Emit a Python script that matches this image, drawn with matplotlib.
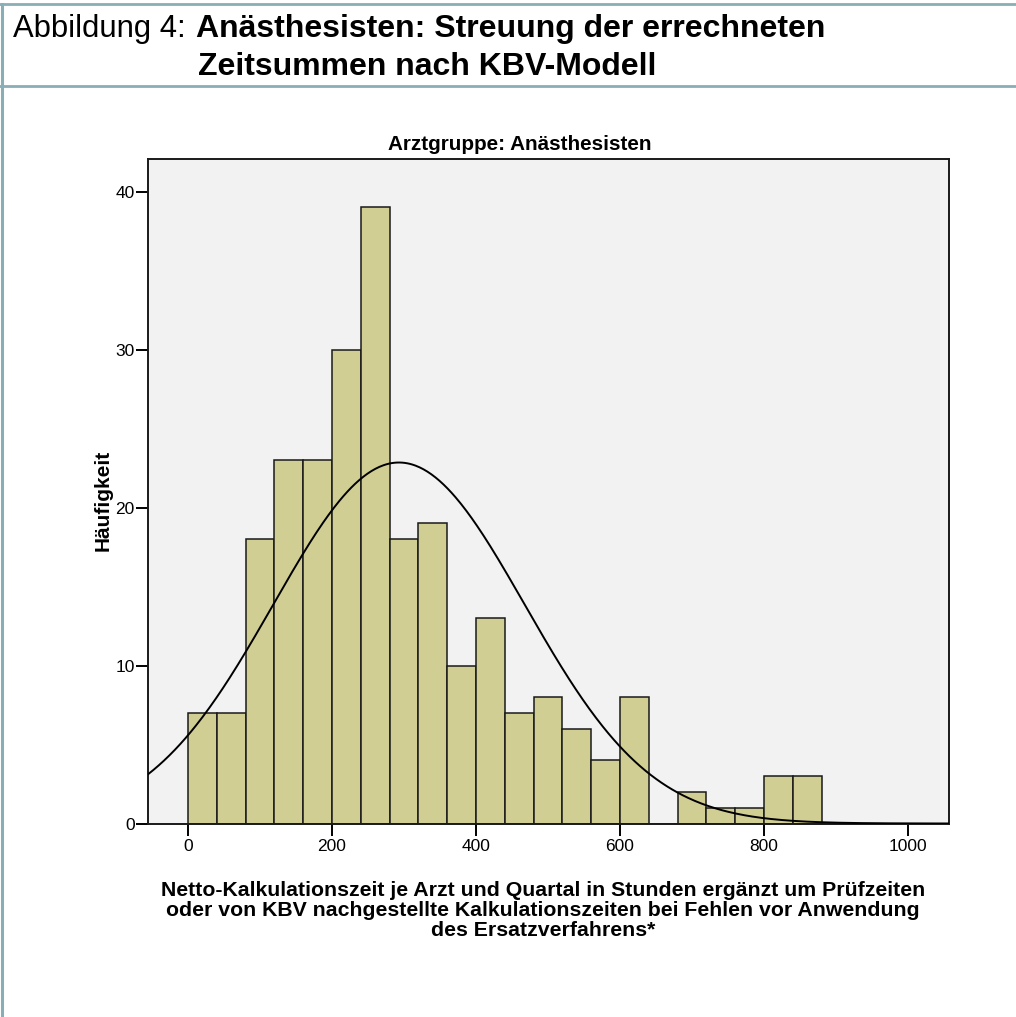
import numpy as np
import matplotlib
matplotlib.use("Agg")
import matplotlib.pyplot as plt
from matplotlib.lines import Line2D

plt.rcParams['font.family'] = ['Liberation Sans', 'DejaVu Sans']

# ---- data ----
bin_width = 40
bin_starts = [0, 40, 80, 120, 160, 200, 240, 280, 320, 360, 400, 440, 480,
              520, 560, 600, 640, 680, 720, 760, 800, 840]
counts = [7, 7, 18, 23, 23, 30, 39, 18, 19, 10, 13, 7, 8, 6, 4, 8, 0, 2, 1, 1, 3, 3]
fit_mean = 293.0
fit_sd = 174.6
x_ticks = [0, 200, 400, 600, 800, 1000]
y_ticks = [0, 10, 20, 30, 40]

title = "Arztgruppe: Anästhesisten"
ylabel = "Häufigkeit"
xlabel = ("Netto-Kalkulationszeit je Arzt und Quartal in Stunden ergänzt um Prüfzeiten\n"
          "oder von KBV nachgestellte Kalkulationszeiten bei Fehlen vor Anwendung\n"
          "des Ersatzverfahrens*")
header_prefix = "Abbildung 4:"
header_line1 = "Anästhesisten: Streuung der errechneten"
header_line2 = "Zeitsummen nach KBV-Modell"

W, H = 1016, 1017
fig = plt.figure(figsize=(W / 100, H / 100), dpi=100)
fig.patch.set_facecolor("white")

ax = fig.add_axes([148 / W, 1 - 823.5 / H, (949 - 148) / W, (823.5 - 159) / H])
ax.set_facecolor("#F2F2F2")

ax.bar(bin_starts, counts, width=bin_width, align="edge",
       color="#D1CE94", edgecolor="#1a1a1a", linewidth=1.1, zorder=2)

xlim = (-55.6, 1057)
xs = np.linspace(xlim[0], xlim[1], 600)
n_total = sum(counts)
ys = n_total * bin_width / (fit_sd * np.sqrt(2 * np.pi)) * np.exp(-0.5 * ((xs - fit_mean) / fit_sd) ** 2)
ax.plot(xs, ys, color="black", linewidth=1.4, zorder=3)

ax.set_xlim(*xlim)
ax.set_ylim(0, 42.06)
ax.set_xticks(x_ticks)
ax.set_yticks(y_ticks)
ax.tick_params(axis="both", direction="out", length=8.5, width=1.4, colors="black",
               labelsize=12.5)
ax.tick_params(axis="x", pad=3)
ax.tick_params(axis="y", pad=1)
for s in ax.spines.values():
    s.set_linewidth(1.4)
    s.set_color("#1a1a1a")

# title and labels
fig.text(520 / W, 1 - 150 / H, title, ha="center", va="baseline",
         fontsize=14.9, fontweight="bold")
fig.text(103 / W, 1 - 500 / H, ylabel, ha="center", va="center", rotation=90,
         fontsize=15, fontweight="bold")
fig.text(543 / W, 1 - 936 / H, xlabel, ha="center", va="baseline",
         multialignment="center", fontsize=15.3, fontweight="bold", linespacing=1.08)

# header
fig.text(13 / W, 1 - 37 / H, header_prefix, ha="left", va="baseline", fontsize=22.3)
fig.text(196 / W, 1 - 37 / H, header_line1, ha="left", va="baseline",
         fontsize=23, fontweight="bold")
fig.text(198 / W, 1 - 75 / H, header_line2, ha="left", va="baseline",
         fontsize=23, fontweight="bold")

# border lines
bc = "#8AAEB5"
fig.add_artist(Line2D([0, 1], [1 - 4 / H, 1 - 4 / H], transform=fig.transFigure,
                      color=bc, linewidth=2.0))
fig.add_artist(Line2D([0, 1], [1 - 86 / H, 1 - 86 / H], transform=fig.transFigure,
                      color=bc, linewidth=2.0))
fig.add_artist(Line2D([2 / W, 2 / W], [0, 1 - 4 / H], transform=fig.transFigure,
                      color=bc, linewidth=2.2))

fig.savefig("out.png", dpi=100)
